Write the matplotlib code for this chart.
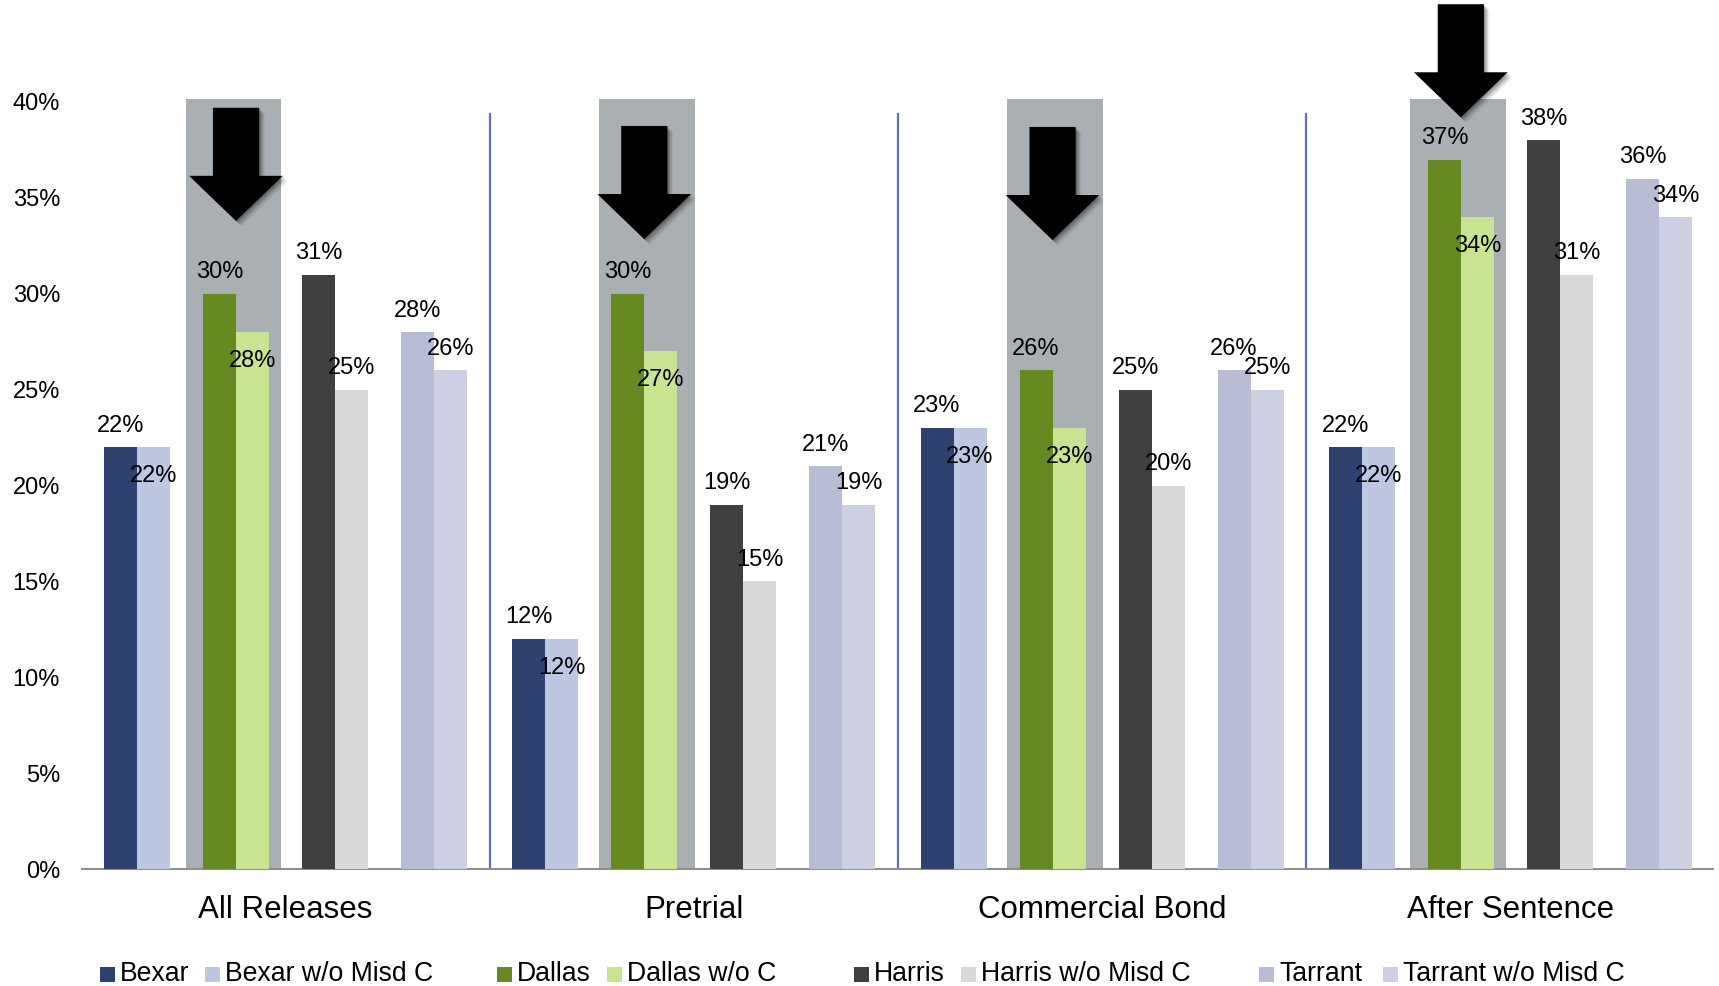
import matplotlib
matplotlib.use("Agg")
import matplotlib.pyplot as plt
from matplotlib.patches import Rectangle, Polygon
import matplotlib.patheffects as pe

plt.rcParams["font.family"] = ["Liberation Sans", "DejaVu Sans"]

# ---- data -------------------------------------------------------------
categories = ["All Releases", "Pretrial", "Commercial Bond", "After Sentence"]
series_names = ["Bexar", "Bexar w/o Misd C", "Dallas", "Dallas w/o C",
                "Harris", "Harris w/o Misd C", "Tarrant", "Tarrant w/o Misd C"]
bexar = [22, 12, 23, 22]
bexar_wo = [22, 12, 23, 22]
dallas = [30, 30, 26, 37]
dallas_wo = [28, 27, 23, 34]
harris = [31, 19, 25, 38]
harris_wo = [25, 15, 20, 31]
tarrant = [28, 21, 26, 36]
tarrant_wo = [26, 19, 25, 34]
series_values = [bexar, bexar_wo, dallas, dallas_wo,
                 harris, harris_wo, tarrant, tarrant_wo]
y_ticks = [0, 5, 10, 15, 20, 25, 30, 35, 40]

# ---- styling ----------------------------------------------------------
colors = ["#2E4270", "#BDC7E1", "#658A1F", "#C8E490",
          "#404040", "#D9D9D9", "#B8BCD5", "#CDD0E2"]
label_inside = [False, True, False, True, False, False, False, False]
arrow_tips = [33.8, 32.85, 32.8, 39.2]   # tip height (%) of each highlight arrow
box_shift = [-0.08, 0.08, 0.08, -0.08]   # small horizontal nudge of each highlight box
box_top = 40.15
GROUP_STEP = 12.37
BAR_W = 1.0

W, H, DPI = 1719, 986, 100
fig = plt.figure(figsize=(W / DPI, H / DPI), dpi=DPI)
ax = fig.add_axes([82 / W, 1 - 869 / H, (1713 - 82) / W, 869 / H])

# highlight boxes behind Dallas pairs
for g in range(len(categories)):
    cx = g * GROUP_STEP + 3 + BAR_W + box_shift[g]
    ax.add_patch(Rectangle((cx - 1.45, 0), 2.9, box_top, facecolor="#A9AFB2",
                           edgecolor="none", zorder=1))

# bars
for s, vals in enumerate(series_values):
    pair, within = divmod(s, 2)
    xs = [g * GROUP_STEP + pair * 3 + within * BAR_W for g in range(len(categories))]
    ax.bar(xs, vals, width=BAR_W, align="edge", color=colors[s], zorder=3)
    for x, v in zip(xs, vals):
        if within == 1 and label_inside[s]:
            off = -20.8
        else:
            off = 15.5
        ax.annotate(f"{v}%", (x + BAR_W / 2, v), xytext=(0, off),
                    textcoords="offset points", ha="center", va="center",
                    fontsize=17, color="black", zorder=6)

# separators between groups
for g in range(len(categories) - 1):
    xm = g * GROUP_STEP + 11 + (GROUP_STEP - 11) / 2
    ax.plot([xm, xm], [0, 39.4], color="#5A73BF", lw=1.6, zorder=2)

# downward arrows over the Dallas pairs
shadow = [pe.SimplePatchShadow(offset=(d, -d), shadow_rgbFace="black", alpha=a)
          for d, a in [(4, 0.06), (3, 0.1), (2, 0.14), (1, 0.18)]] + [pe.Normal()]
for g, tip in enumerate(arrow_tips):
    cx = g * GROUP_STEP + 3 + BAR_W
    head_len, shaft_len = 2.35, 3.55
    sw, hw = 0.70, 1.42
    pts = [(cx - sw, tip + head_len + shaft_len), (cx + sw, tip + head_len + shaft_len),
           (cx + sw, tip + head_len), (cx + hw, tip + head_len), (cx, tip),
           (cx - hw, tip + head_len), (cx - sw, tip + head_len)]
    poly = Polygon(pts, closed=True, facecolor="black", edgecolor="none", zorder=5)
    poly.set_path_effects(shadow)
    ax.add_patch(poly)

# axes
ax.set_xlim(-0.667, 3 * GROUP_STEP + 11 + 0.64)
ax.set_ylim(0, 869 / 19.175)
ax.set_yticks(y_ticks)
ax.set_yticklabels([f"{t}%" for t in y_ticks], fontsize=17)
ax.set_xticks([g * GROUP_STEP + 5.5 for g in range(len(categories))])
ax.set_xticklabels(categories, fontsize=22.5)
ax.tick_params(axis="y", length=0, pad=15.8)
ax.tick_params(axis="x", length=0, pad=18.8)
for side in ["left", "right", "top"]:
    ax.spines[side].set_visible(False)
ax.spines["bottom"].set_color("#8C8C8C")
ax.spines["bottom"].set_linewidth(1.4)
ax.set_facecolor("none")

# legend along the bottom
legend_x = [100, 205, 497, 607, 854, 961, 1259, 1383]
ly = 974
for name, col, lx in zip(series_names, colors, legend_x):
    fig.patches.append(Rectangle((lx / W, 1 - (ly + 7.5) / H), 15 / W, 15 / H,
                                 transform=fig.transFigure, facecolor=col,
                                 edgecolor="none"))
    fig.text((lx + 20) / W, 1 - ly / H, name, fontsize=19.2, va="center",
             ha="left", color="black")

fig.savefig("out.png", dpi=DPI)
